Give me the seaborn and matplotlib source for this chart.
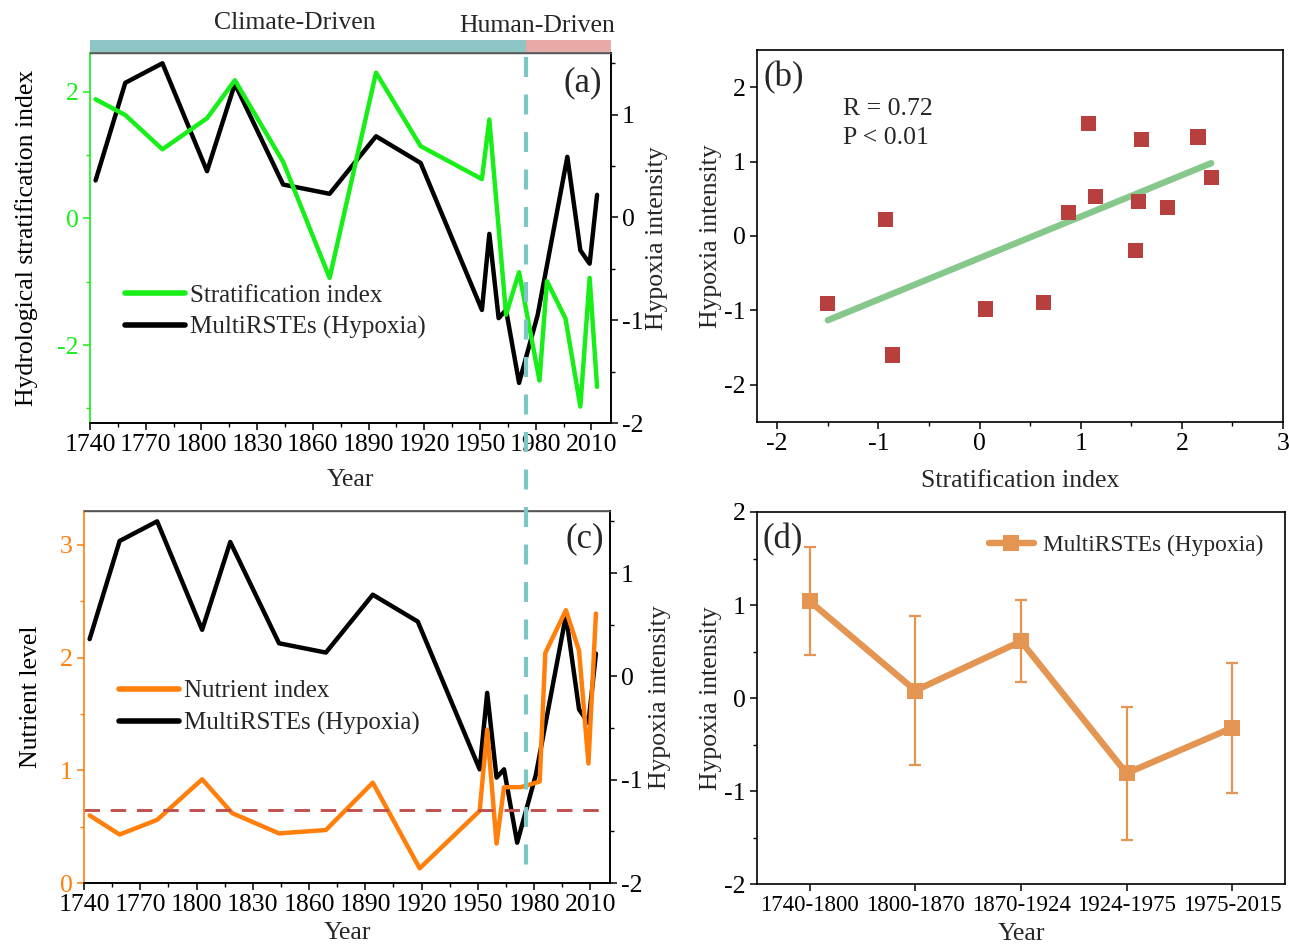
import numpy as np
import pandas as pd
import matplotlib
matplotlib.use("Agg")
import matplotlib.pyplot as plt
from matplotlib.patches import Rectangle
from matplotlib.lines import Line2D
from matplotlib.ticker import MultipleLocator
import seaborn as sns

# ---------------- data ----------------
strat_years = [1743, 1759, 1779, 1803, 1818, 1844, 1869, 1894, 1918, 1951, 1955,
               1964, 1971, 1982, 1986, 1996, 2004, 2009, 2013]
strat_index = [1.88, 1.63, 1.09, 1.58, 2.18, 0.89, -0.94, 2.30, 1.14, 0.62, 1.56,
               -1.52, -0.85, -2.56, -0.99, -1.58, -2.97, -0.94, -2.66]

hyp_years = [1743, 1759, 1779, 1803, 1818, 1844, 1869, 1894, 1918, 1951, 1955,
             1960, 1964, 1971, 1981, 1997, 2004, 2009, 2013]
hyp_index = [0.36, 1.31, 1.50, 0.45, 1.30, 0.32, 0.23, 0.79, 0.53, -0.90, -0.16,
             -0.98, -0.90, -1.61, -0.95, 0.59, -0.32, -0.45, 0.22]

nut_years = [1743, 1759, 1779, 1803, 1819, 1844, 1869, 1894, 1919, 1951, 1955,
             1960, 1964, 1973, 1983, 1986, 1997, 2004, 2009, 2013]
nut_index = [0.60, 0.43, 0.56, 0.92, 0.62, 0.44, 0.47, 0.89, 0.13, 0.64, 1.36,
             0.35, 0.85, 0.85, 0.90, 2.04, 2.42, 2.06, 1.06, 2.39]
nut_threshold = 0.65

scatter_strat = [-1.50, -0.93, -0.86, 0.06, 0.63, 0.88, 1.08, 1.15, 1.54, 1.57,
                 1.60, 1.86, 2.16, 2.29]
scatter_hyp = [-0.91, 0.22, -1.60, -0.98, -0.89, 0.32, 1.51, 0.53, -0.19, 0.46,
               1.30, 0.38, 1.33, 0.79]

periods = ['1740-1800', '1800-1870', '1870-1924', '1924-1975', '1975-2015']
period_mean = [1.04, 0.08, 0.61, -0.81, -0.32]
period_err = [0.58, 0.80, 0.44, 0.715, 0.70]

regime_bounds = [1740, 1975, 2020.5]
regime_names = ['Climate-Driven', 'Human-Driven']
shift_year = 1975

# ---------------- style ----------------
FS = 18.5
FS_PANEL = 25
sns.set_theme(style="ticks")
plt.rcParams['font.family'] = ['Liberation Serif', 'DejaVu Serif']
plt.rcParams.update({
    'font.size': FS,
    'axes.labelsize': FS,
    'xtick.labelsize': FS,
    'ytick.labelsize': FS,
    'axes.unicode_minus': False,
    'axes.linewidth': 1.2,
    'xtick.major.size': 5, 'ytick.major.size': 5,
    'xtick.minor.size': 3, 'ytick.minor.size': 3,
    'xtick.major.width': 1.1, 'ytick.major.width': 1.1,
    'xtick.minor.width': 1.0, 'ytick.minor.width': 1.0,
    'xtick.major.pad': 3, 'ytick.major.pad': 3,
    'xtick.direction': 'out', 'ytick.direction': 'out',
    'axes.edgecolor': 'black',
    'xtick.color': 'black', 'ytick.color': 'black',
})

GREEN = '#18ee18'
ORANGE = '#ff7f0a'
ORANGE_D = '#e39551'
RED_SQ = '#b73f3d'
FIT_GREEN = '#86c78c'
TEAL = '#8cc5c4'
PINK = '#e8aaa6'
DASH_TEAL = '#7dc6c6'

W, H = 1290, 946
fig = plt.figure(figsize=(W / 100, H / 100), dpi=100)
ax_a = fig.add_axes([90 / W, 1 - 423 / H, 521 / W, 370 / H])
ax_b = fig.add_axes([757 / W, 1 - 422 / H, 526 / W, 372 / H])
ax_c = fig.add_axes([84 / W, 1 - 883 / H, 526 / W, 372 / H])
ax_d = fig.add_axes([757 / W, 1 - 884 / H, 528 / W, 372 / H])

LW = 3.2


def style_year_axis(ax):
    ax.set_xlim(1740, 2020.5)
    ax.set_xticks(np.arange(1740, 2011, 30))
    ax.xaxis.set_minor_locator(MultipleLocator(15))
    ax.set_xlabel('Year')


# ---------------- panel (a) ----------------
ax_a2 = ax_a.twinx()
sns.lineplot(x=hyp_years, y=hyp_index, ax=ax_a2, color='black', lw=LW, legend=False)
sns.lineplot(x=strat_years, y=strat_index, ax=ax_a, color=GREEN, lw=LW, legend=False)
ax_a.set_zorder(ax_a2.get_zorder() + 1)
ax_a.patch.set_visible(False)

style_year_axis(ax_a)
ax_a.set_ylim(-3.23, 2.61)
ax_a.set_yticks([-2, 0, 2])
ax_a.yaxis.set_minor_locator(MultipleLocator(1))
ax_a.tick_params(axis='y', which='both', colors=GREEN, labelcolor=GREEN)
ax_a.spines['left'].set_color(GREEN)
ax_a.spines['top'].set_color('#555555')
ax_a.spines['top'].set_linewidth(1.0)
ax_a.set_ylabel('Hydrological stratification index', color='black')
ax_a.yaxis.set_label_coords(-0.100, 0.5)
ax_a.xaxis.set_label_coords(0.5, -0.124)

ax_a2.set_ylim(-2, 1.6)
ax_a2.set_yticks([-2, -1, 0, 1])
ax_a2.yaxis.set_minor_locator(MultipleLocator(0.5))
ax_a2.spines['left'].set_visible(False)
ax_a2.spines['top'].set_color('#555555')
ax_a2.set_ylabel('Hypoxia intensity')
ax_a2.yaxis.set_label_coords(1.067, 0.5)
ax_a2.set_xlabel('')

# regime bar
bt = ax_a.get_xaxis_transform()
for (x0, x1), col in zip(zip(regime_bounds[:-1], regime_bounds[1:]), [TEAL, PINK]):
    ax_a.add_patch(Rectangle((x0, 1.004), x1 - x0, 0.031, transform=bt,
                             facecolor=col, edgecolor='none', clip_on=False))
ax_a.text(1850, 1.08, regime_names[0], transform=bt, ha='center', va='center', fontsize=FS)
ax_a.text(1981, 1.072, regime_names[1], transform=bt, ha='center', va='center', fontsize=FS)

ax_a.text(0.983, 0.92, '(a)', transform=ax_a.transAxes, ha='right', va='center', fontsize=FS_PANEL)

ax_a.legend(handles=[Line2D([], [], color=GREEN, lw=4), Line2D([], [], color='black', lw=4)],
            labels=['Stratification index', 'MultiRSTEs (Hypoxia)'],
            loc='center left', bbox_to_anchor=(0.067, 0.301), frameon=False,
            handlelength=2.4, handletextpad=0.2, borderpad=0, borderaxespad=0,
            labelspacing=0.38, fontsize=18)

# ---------------- panel (b) ----------------
sns.regplot(x=scatter_strat, y=scatter_hyp, ax=ax_b, ci=None, scatter=False, truncate=True,
            line_kws=dict(color=FIT_GREEN, lw=4.6, solid_capstyle='round'))
sns.scatterplot(x=scatter_strat, y=scatter_hyp, ax=ax_b, marker='s', s=120,
                color=RED_SQ, edgecolor='none', zorder=3, legend=False)
ax_b.set_xlim(-2.2, 3.0)
ax_b.set_ylim(-2.5, 2.5)
ax_b.set_xticks([-2, -1, 0, 1, 2, 3])
ax_b.xaxis.set_minor_locator(MultipleLocator(0.5))
ax_b.set_yticks([-2, -1, 0, 1, 2])
ax_b.set_xlabel('Stratification index')
ax_b.set_ylabel('Hypoxia intensity')
ax_b.yaxis.set_label_coords(-0.066, 0.5)
ax_b.xaxis.set_label_coords(0.5, -0.128)
ax_b.text(0.013, 0.925, '(b)', transform=ax_b.transAxes, ha='left', va='center', fontsize=FS_PANEL)
ax_b.text(0.164, 0.841, 'R = 0.72', transform=ax_b.transAxes, ha='left', va='center', fontsize=FS)
ax_b.text(0.164, 0.763, 'P < 0.01', transform=ax_b.transAxes, ha='left', va='center', fontsize=FS)

# ---------------- panel (c) ----------------
ax_c2 = ax_c.twinx()
sns.lineplot(x=hyp_years, y=hyp_index, ax=ax_c2, color='black', lw=LW, legend=False)
sns.lineplot(x=nut_years, y=nut_index, ax=ax_c, color=ORANGE, lw=LW, legend=False)
ax_c.axhline(nut_threshold, color='#c0504d', lw=2.1, dashes=(5.3, 3.7))
ax_c.set_zorder(ax_c2.get_zorder() + 1)
ax_c.patch.set_visible(False)

style_year_axis(ax_c)
ax_c.set_ylim(0, 3.3)
ax_c.set_yticks([0, 1, 2, 3])
ax_c.yaxis.set_minor_locator(MultipleLocator(0.5))
ax_c.tick_params(axis='y', which='both', colors=ORANGE, labelcolor=ORANGE)
ax_c.spines['left'].set_color(ORANGE)
ax_c.spines['top'].set_color('#555555')
ax_c.spines['top'].set_linewidth(1.0)
ax_c.set_ylabel('Nutrient level', color='black')
ax_c.yaxis.set_label_coords(-0.079, 0.5)
ax_c.xaxis.set_label_coords(0.5, -0.106)

ax_c2.set_ylim(-2, 1.6)
ax_c2.set_yticks([-2, -1, 0, 1])
ax_c2.yaxis.set_minor_locator(MultipleLocator(0.5))
ax_c2.spines['left'].set_visible(False)
ax_c2.spines['top'].set_color('#555555')
ax_c2.set_ylabel('Hypoxia intensity')
ax_c2.yaxis.set_label_coords(1.074, 0.5)
ax_c2.set_xlabel('')

ax_c.text(0.988, 0.925, '(c)', transform=ax_c.transAxes, ha='right', va='center', fontsize=FS_PANEL)
ax_c.legend(handles=[Line2D([], [], color=ORANGE, lw=4), Line2D([], [], color='black', lw=4)],
            labels=['Nutrient index', 'MultiRSTEs (Hypoxia)'],
            loc='center left', bbox_to_anchor=(0.066, 0.472), frameon=False,
            handlelength=2.4, handletextpad=0.2, borderpad=0, borderaxespad=0,
            labelspacing=0.38, fontsize=18)

# ---------------- panel (d) ----------------
ax_d.errorbar(periods, period_mean, yerr=period_err, fmt='none', ecolor=ORANGE_D,
              elinewidth=1.6, capsize=4, capthick=1.6, zorder=2)
sns.lineplot(x=periods, y=period_mean, ax=ax_d, color=ORANGE_D, lw=4.6, marker='s',
             markersize=12, markeredgewidth=0, sort=False, legend=False, zorder=3)
ax_d.set_xlim(-0.5, 4.5)
ax_d.set_ylim(-2, 2)
ax_d.set_yticks([-2, -1, 0, 1, 2])
ax_d.yaxis.set_minor_locator(MultipleLocator(0.5))
ax_d.tick_params(axis='x', labelsize=16.5)
ax_d.set_xlabel('Year')
ax_d.set_ylabel('Hypoxia intensity')
ax_d.yaxis.set_label_coords(-0.066, 0.5)
ax_d.xaxis.set_label_coords(0.5, -0.106)
ax_d.text(0.01, 0.925, '(d)', transform=ax_d.transAxes, ha='left', va='center', fontsize=FS_PANEL)
ax_d.legend(handles=[Line2D([], [], color=ORANGE_D, lw=4.6, marker='s', markersize=12,
                            markeredgewidth=0)],
            labels=['MultiRSTEs (Hypoxia)'], loc='center left', bbox_to_anchor=(0.44, 0.911),
            frameon=False, handlelength=1.9, handletextpad=0.4, borderpad=0,
            borderaxespad=0, fontsize=16.8)

# ---------------- regime shift dashed line across (a) and (c) ----------------
x_disp = ax_a.transData.transform((shift_year, 0))[0]
x_fig = fig.transFigure.inverted().transform((x_disp, 0))[0]
fig.add_artist(Line2D([x_fig, x_fig], [1 - 57 / H, 1 - 882 / H], transform=fig.transFigure,
                      color=DASH_TEAL, lw=3.0, dashes=(4.8, 4.2), zorder=10))

fig.savefig('out.png', dpi=100)
